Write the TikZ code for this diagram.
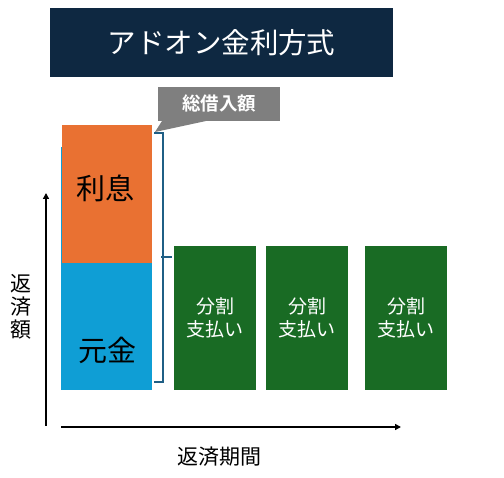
\documentclass[tikz,border=0pt]{standalone}
\usepackage{fontspec}
\newfontfamily\jp{Noto Sans CJK JP}
\newfontfamily\jpb{Noto Sans CJK JP Bold}
\usetikzlibrary{arrows.meta}
\definecolor{navy}{HTML}{0E2841}
\definecolor{orng}{HTML}{E97132}
\definecolor{skyb}{HTML}{0F9ED5}
\definecolor{grn}{HTML}{196B24}
\definecolor{gry}{HTML}{7F7F7F}
\definecolor{brk}{HTML}{1F5F85}
\tikzset{
  box/.style={rectangle, inner sep=0pt, outer sep=0pt, anchor=north west},
  paybox/.style={box, fill=grn, minimum width=82pt, minimum height=144pt, text=white, align=center, font=\jp\fontsize{19}{23}\selectfont},
  axis/.style={line width=1.8pt, -{Triangle[length=6pt,width=6pt]}},
  lbl/.style={inner sep=0pt, font=\jp\fontsize{21}{23}\selectfont, align=center}
}
\begin{document}
\begin{tikzpicture}[x=1pt,y=-1pt]
\useasboundingbox (0,0) rectangle (504,478);
% title
\node[box, fill=navy, minimum width=343pt, minimum height=69pt, text=white, font=\jp\fontsize{28.5}{30}\selectfont] (title) at (50,8) {アドオン金利方式};
% stacked bar
\node[box, fill=skyb, minimum width=91pt, minimum height=243pt] (bluebg) at (61,147) {};
\node[box, fill=skyb, minimum width=90pt, minimum height=127pt] (principal) at (62,263) {};
\node[box, fill=orng, minimum width=90pt, minimum height=138pt] (interest) at (62,125) {};
\node[font=\jp\fontsize{29}{32}\selectfont] (intlbl) at (105,188) {利息};
\node[font=\jp\fontsize{29}{32}\selectfont] (prinlbl) at (107,350) {元金};
% payments
\node[paybox] (p1) at (174,246) {分割\\支払い};
\node[paybox] (p2) at (266,246) {分割\\支払い};
\node[paybox] (p3) at (365,246) {分割\\支払い};
% callout
\node[box, fill=gry, minimum width=122pt, minimum height=34pt, text=white, font=\jpb\fontsize{18.5}{20}\selectfont] (total) at (158,87) {総借入額};
\coordinate (tip) at (155,132);
\fill[gry] ([xshift=4pt]total.south west) -- ([xshift=48pt]total.south west) -- (tip) -- cycle;
% bracket
\coordinate (bt) at (154,133);
\coordinate (bb) at (154,382);
\coordinate (bm) at (172,257);
\draw[brk, line width=2.2pt] (bt) -- (163,133) -- (163,382) -- (bb);
\draw[brk, line width=2.2pt] (161,257) -- (bm);
% axes
\coordinate (yo) at (46,426);
\coordinate (yt) at (46,193);
\coordinate (xo) at (61,427);
\coordinate (xt) at (401,427);
\draw[axis] (yo) -- (yt);
\draw[axis] (xo) -- (xt);
\node[lbl] (ylbl) at (21,307) {返\\済\\額};
\node[lbl] (xlbl) at (219,457) {返済期間};
\end{tikzpicture}
\end{document}
